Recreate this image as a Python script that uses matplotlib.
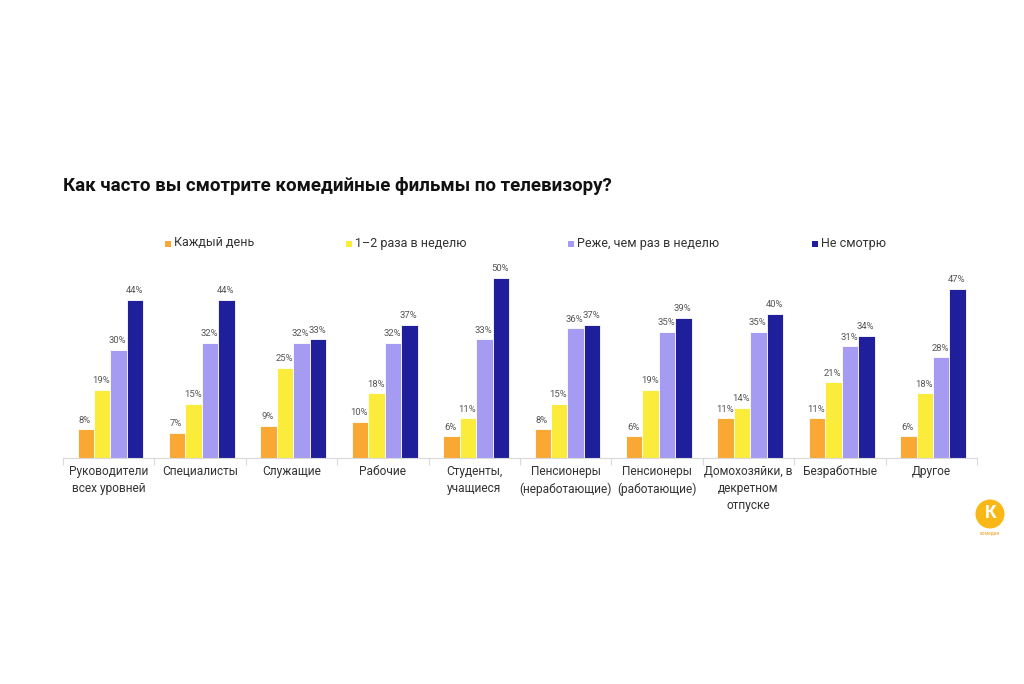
import matplotlib
matplotlib.use("Agg")
import matplotlib.pyplot as plt
import numpy as np
from matplotlib.patches import Ellipse, Rectangle

plt.rcParams['font.family'] = ['Roboto', 'DejaVu Sans']

categories = ["Руководители\nвсех уровней", "Специалисты", "Служащие", "Рабочие",
              "Студенты,\nучащиеся", "Пенсионеры\n(неработающие)", "Пенсионеры\n(работающие)",
              "Домохозяйки, в\nдекретном\nотпуске", "Безработные", "Другое"]
series_names = ["Каждый день", "1–2 раза в неделю", "Реже, чем раз в неделю", "Не смотрю"]
daily = [8, 7, 9, 10, 6, 8, 6, 11, 11, 6]
weekly = [19, 15, 25, 18, 11, 15, 19, 14, 21, 18]
rarely = [30, 32, 32, 32, 33, 36, 35, 35, 31, 28]
never = [44, 44, 33, 37, 50, 37, 39, 40, 34, 47]
colors = ["#F9A833", "#FBEC3C", "#A69BF2", "#1F1F9C"]

fig = plt.figure(figsize=(10.24, 6.84), dpi=100)
fig.patch.set_facecolor("white")
ax = fig.add_axes([0.0615, 0.3304, 0.8925, 0.2895])

x = np.arange(len(categories))
bw = 0.18
offsets = np.array([-1.5, -0.5, 0.5, 1.5]) * bw + 0.02
for vals, col, off in zip([daily, weekly, rarely, never], colors, offsets):
    ax.bar(x + off, vals, width=bw, color=col, edgecolor="white", linewidth=0.6)
    for xi, v in zip(x + off, vals):
        ax.text(xi - 0.01, v + 1.3, f"{v}%", ha="center", va="bottom", fontsize=6.8, color="#555555")

ax.set_xlim(-0.5, len(categories) - 0.5)
ax.set_ylim(0, 55)
ax.set_yticks([])
for s in ["top", "right", "left"]:
    ax.spines[s].set_visible(False)
ax.spines["bottom"].set_color("#D9D9D9")
ax.spines["bottom"].set_linewidth(0.8)
ax.set_xticks(np.arange(len(categories) + 1) - 0.5, minor=True)
ax.set_xticks(x)
ax.set_xticklabels(categories, fontsize=8.6, color="#333333", linespacing=1.4)
ax.tick_params(axis="x", which="major", length=0, pad=5)
ax.tick_params(axis="x", which="minor", length=5, color="#D9D9D9", width=0.8)

fig.text(63 / 1024, 1 - 186 / 684, "Как часто вы смотрите комедийные фильмы по телевизору?",
         fontsize=13.5, fontweight="bold", color="#111111", va="center", ha="left")

leg_x = [165, 346, 568, 812]
for lx, name, col in zip(leg_x, series_names, colors):
    fig.patches.append(Rectangle((lx / 1024, 1 - 247 / 684), 6 / 1024, 6 / 684,
                                 transform=fig.transFigure, facecolor=col, edgecolor="none"))
    fig.text((lx + 9) / 1024, 1 - 243 / 684, name, fontsize=9, color="#333333",
             va="center", ha="left")

# logo
fig.patches.append(Ellipse((990 / 1024, 1 - 514 / 684), 29 / 1024, 29 / 684,
                           transform=fig.transFigure, facecolor="#F9B815", edgecolor="none"))
fig.text(990.5 / 1024, 1 - 513 / 684, "К", fontsize=13, fontweight="bold", color="white",
         ha="center", va="center")
fig.text(990 / 1024, 1 - 533 / 684, "комедия", fontsize=3.5, color="#F0A020",
         ha="center", va="center")

fig.savefig("out.png", dpi=100, facecolor="white")
